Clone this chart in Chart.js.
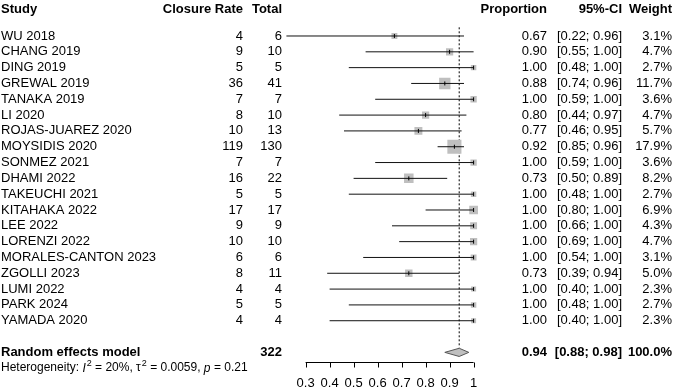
<!DOCTYPE html>
<html>
<head>
<meta charset="utf-8">
<script src="https://cdn.jsdelivr.net/npm/chart.js@4/dist/chart.umd.min.js"></script>
<style>
  html, body { margin: 0; padding: 0; background: #fff; }
  #wrap { width: 673px; height: 389px; }
</style>
</head>
<body>
<div id="wrap"><canvas id="forest" width="673" height="389"></canvas></div>
<script>
// study table
const studies = ['WU 2018', 'CHANG 2019', 'DING 2019', 'GREWAL 2019', 'TANAKA 2019', 'LI 2020',
    'ROJAS-JUAREZ 2020', 'MOYSIDIS 2020', 'SONMEZ 2021', 'DHAMI 2022', 'TAKEUCHI 2021',
    'KITAHAKA 2022', 'LEE 2022', 'LORENZI 2022', 'MORALES-CANTON 2023', 'ZGOLLI 2023',
    'LUMI 2022', 'PARK 2024', 'YAMADA 2020'];
const closures = [4, 9, 5, 36, 7, 8, 10, 119, 7, 16, 5, 17, 9, 10, 6, 8, 4, 5, 4];
const totals = [6, 10, 5, 41, 7, 10, 13, 130, 7, 22, 5, 17, 9, 10, 6, 11, 4, 5, 4];
const proportions = [0.67, 0.90, 1.00, 0.88, 1.00, 0.80, 0.77, 0.92, 1.00, 0.73, 1.00, 1.00, 1.00, 1.00, 1.00, 0.73, 1.00, 1.00, 1.00];
const lower = [0.22, 0.55, 0.48, 0.74, 0.59, 0.44, 0.46, 0.85, 0.59, 0.50, 0.48, 0.80, 0.66, 0.69, 0.54, 0.39, 0.40, 0.48, 0.40];
const upper = [0.96, 1.00, 1.00, 0.96, 1.00, 0.97, 0.95, 0.96, 1.00, 0.89, 1.00, 1.00, 1.00, 1.00, 1.00, 0.94, 1.00, 1.00, 1.00];
const weights = [3.1, 4.7, 2.7, 11.7, 3.6, 4.7, 5.7, 17.9, 3.6, 8.2, 2.7, 6.9, 4.3, 4.7, 3.1, 5.0, 2.3, 2.7, 2.3];

// random effects summary
const pooled = { total: 322, est: 0.94, lo: 0.88, hi: 0.98, weight: 100.0 };
const heterogeneity = { i2: '20%', tau2: '0.0059', p: '0.21' };

// x axis ticks
const xTicks = [0.3, 0.4, 0.5, 0.6, 0.7, 0.8, 0.9, 1];

const summaryRow = studies.length + 1;
const FONT = '"Liberation Sans", Arial, Helvetica, sans-serif';
const fmt = v => v.toFixed(2);

// CI lines, one dataset per study
const ciSets = studies.map((s, i) => ({
    data: [{ x: lower[i], y: i }, { x: upper[i], y: i }],
    showLine: true,
    borderColor: '#111',
    borderWidth: 1,
    pointRadius: 0,
    order: 2
}));

const datasets = [
    // weight squares (area ~ weight)
    {
        data: proportions.map((p, i) => ({ x: p, y: i })),
        pointStyle: 'rect',
        pointRadius: weights.map(w => 2.35 * Math.sqrt(w)),
        backgroundColor: '#bfbfbf',
        borderWidth: 0,
        order: 3
    },
    ...ciSets,
    // small tick at the estimate
    {
        data: proportions.map((p, i) => ({ x: p, y: i })),
        pointStyle: 'line',
        rotation: 90,
        pointRadius: 2,
        borderColor: '#000',
        borderWidth: 1,
        order: 1
    },
    // dotted line at pooled estimate
    {
        data: [{ x: pooled.est, y: -0.55 }, { x: pooled.est, y: summaryRow - 0.3 }],
        showLine: true,
        borderColor: '#000',
        borderWidth: 1,
        borderDash: [2, 2],
        pointRadius: 0,
        order: 4
    },
    // diamond
    {
        data: [
            { x: pooled.lo, y: summaryRow },
            { x: pooled.est, y: summaryRow - 0.26 },
            { x: pooled.hi, y: summaryRow },
            { x: pooled.est, y: summaryRow + 0.26 },
            { x: pooled.lo, y: summaryRow }
        ],
        showLine: true,
        fill: 'shape',
        backgroundColor: '#bfbfbf',
        borderColor: '#555',
        borderWidth: 1,
        pointRadius: 0,
        tension: 0,
        order: 0
    }
];

// draws the table text and the x axis
const tablePlugin = {
    id: 'table',
    afterDraw(chart) {
        const ctx = chart.ctx;
        const xs = chart.scales.x;
        const ys = chart.scales.y;
        ctx.save();
        ctx.fillStyle = '#000';
        ctx.textBaseline = 'middle';

        function txt(s, x, y, align, bold, size) {
            ctx.font = (bold ? 'bold ' : '') + (size || 13) + 'px ' + FONT;
            ctx.textAlign = align;
            ctx.fillText(s, x, y);
        }

        // header
        const hy = ys.getPixelForValue(-1.65);
        txt('Study', 1, hy, 'left', true);
        txt('Closure Rate', 243, hy, 'right', true);
        txt('Total', 282, hy, 'right', true);
        txt('Proportion', 547, hy, 'right', true);
        txt('95%-CI', 622, hy, 'right', true);
        txt('Weight', 672, hy, 'right', true);

        // rows
        studies.forEach((s, i) => {
            const y = ys.getPixelForValue(i);
            txt(s, 1, y, 'left');
            txt(String(closures[i]), 243, y, 'right');
            txt(String(totals[i]), 282, y, 'right');
            txt(fmt(proportions[i]), 547, y, 'right');
            txt('[' + fmt(lower[i]) + '; ' + fmt(upper[i]) + ']', 622, y, 'right');
            txt(weights[i].toFixed(1) + '%', 672, y, 'right');
        });

        // summary
        const sy = ys.getPixelForValue(summaryRow);
        txt('Random effects model', 1, sy, 'left', true);
        txt(String(pooled.total), 282, sy, 'right', true);
        txt(fmt(pooled.est), 547, sy, 'right', true);
        txt('[' + fmt(pooled.lo) + '; ' + fmt(pooled.hi) + ']', 622, sy, 'right', true);
        txt(pooled.weight.toFixed(1) + '%', 672, sy, 'right', true);

        // heterogeneity line with italics and superscripts
        const hgy = ys.getPixelForValue(summaryRow + 1);
        let x = 1;
        const parts = [
            ['Heterogeneity: ', ''], ['I', 'italic'], ['2', 'sup'],
            [' = ' + heterogeneity.i2 + ', \u03c4', ''], ['2', 'sup'],
            [' = ' + heterogeneity.tau2 + ', ', ''], ['p', 'italic'],
            [' = ' + heterogeneity.p, '']
        ];
        ctx.textAlign = 'left';
        parts.forEach(([s, style]) => {
            let y = hgy;
            if (style === 'sup') {
                ctx.font = '9px ' + FONT;
                y = hgy - 5;
                x += 1;
            } else {
                ctx.font = (style === 'italic' ? 'italic ' : '') + '12px ' + FONT;
            }
            ctx.fillText(s, x, y);
            x += ctx.measureText(s).width;
        });

        // x axis
        const ay = Math.round(ys.getPixelForValue(summaryRow + 0.6)) + 0.5;
        ctx.strokeStyle = '#000';
        ctx.lineWidth = 1;
        ctx.beginPath();
        ctx.moveTo(xs.getPixelForValue(xTicks[0]), ay);
        ctx.lineTo(xs.getPixelForValue(xTicks[xTicks.length - 1]), ay);
        xTicks.forEach(t => {
            const px = Math.round(xs.getPixelForValue(t)) + 0.5;
            ctx.moveTo(px, ay);
            ctx.lineTo(px, ay + 5);
        });
        ctx.stroke();
        xTicks.forEach(t => {
            txt(String(t), xs.getPixelForValue(t), ay + 21, 'center', false, 13);
        });

        ctx.restore();
    }
};

new Chart(document.getElementById('forest').getContext('2d'), {
    type: 'scatter',
    data: { datasets },
    options: {
        responsive: false,
        devicePixelRatio: 1,
        animation: false,
        events: [],
        layout: { autoPadding: false, padding: { left: 257.6, right: 175.4, top: 4.36, bottom: 5 } },
        scales: {
            x: { type: 'linear', min: 0.1, max: 1.1, display: false },
            y: { type: 'linear', min: -2, max: 22, reverse: true, display: false }
        },
        plugins: {
            legend: { display: false },
            tooltip: { enabled: false }
        }
    },
    plugins: [tablePlugin]
});
</script>
</body>
</html>
